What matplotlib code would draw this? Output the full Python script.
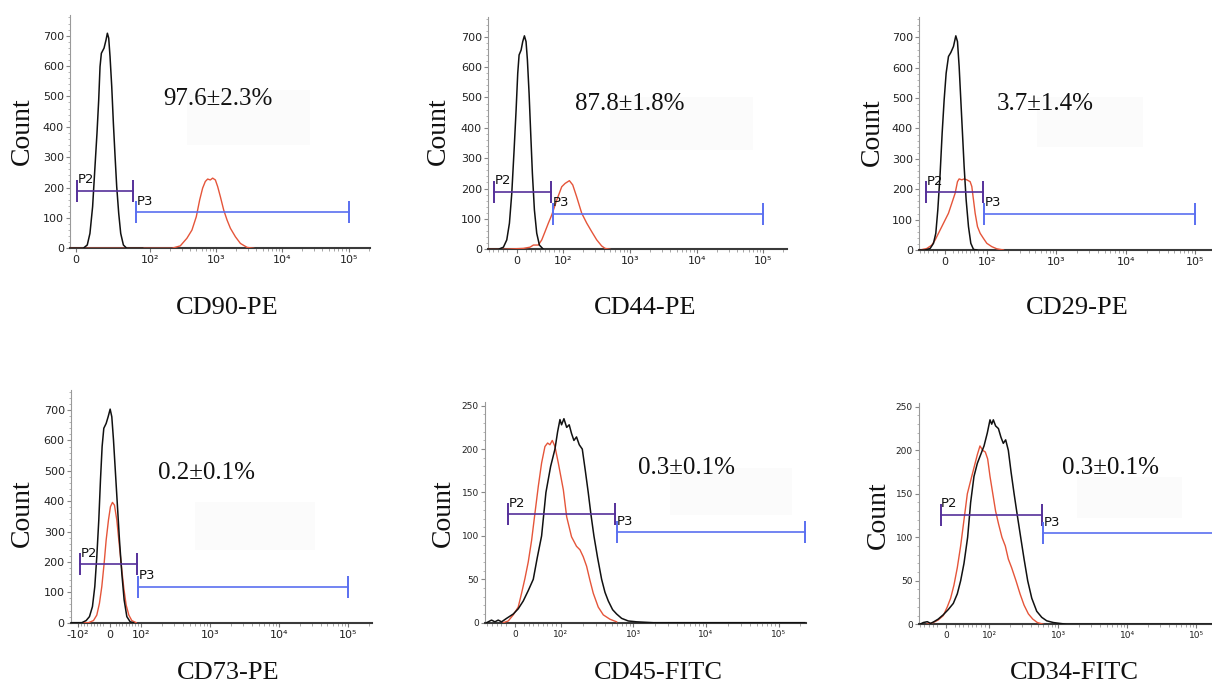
"""Flow cytometry histograms: isotype control (black) vs. stained (red) for six markers."""

import matplotlib

matplotlib.use("Agg")
import matplotlib.pyplot as plt
from matplotlib.patches import Rectangle
from matplotlib.ticker import NullFormatter

FIG_W, FIG_H = 1212, 691

# ---- values (x = fluorescence, y = count) ----
MARKERS = ["CD90-PE", "CD44-PE", "CD29-PE", "CD73-PE", "CD45-FITC", "CD34-FITC"]
PERCENTS = ["97.6±2.3%", "87.8±1.8%", "3.7±1.4%", "0.2±0.1%", "0.3±0.1%", "0.3±0.1%"]

CD90_ISO_X = [-8, 9.9, 15.3, 18.9, 22.5, 25.7, 28.4, 30.7, 32.5, 34.3, 37.9, 40.6,
              42.4, 44.2, 46, 48.3, 50.5, 52.8, 55, 57.7, 60.4, 64, 68.5, 90]
CD90_ISO_Y = [0, 0, 11, 49, 137, 269, 379, 488, 598, 642, 659, 686,
              708, 692, 631, 532, 412, 302, 203, 115, 49, 11, 0, 0]
CD90_STAIN_X = [-8, 213, 286, 360, 429, 499, 561, 622, 683, 741, 813, 882, 969,
                1050, 1153, 1295, 1455, 1634, 1946, 2316, 2924, 3690]
CD90_STAIN_Y = [0, 0, 8, 33, 60, 104, 159, 198, 220, 228, 225, 231, 225,
                203, 170, 126, 93, 66, 38, 16, 3, 0]

CD44_ISO_X = [-61, -39.3, -28.6, -21.4, -15.7, -10.7, -5.7, -1.4, 2.1, 5.0, 9.3,
              12.8, 16.4, 19.9, 22.8, 26.4, 29.9, 33.5, 37.8, 42.8, 48.5, 57.0]
CD44_ISO_Y = [0, 0, 7, 31, 86, 184, 327, 459, 580, 640, 656,
              684, 703, 684, 624, 514, 382, 250, 130, 53, 14, 0]
CD44_STAIN_X = [-61, -29.3, 14.1, 28.5, 35.6, 46.3, 53.6, 60.6, 67.7, 75, 85.7, 96.4,
                106, 123, 138, 158, 188, 224, 266, 316, 375, 421, 500]
CD44_STAIN_Y = [0, 0, 3, 7, 14, 14, 31, 58, 86, 113, 162, 206,
                217, 226, 212, 173, 119, 86, 58, 31, 11, 3, 0]

CD29_ISO_X = [-62, -48, -36, -28, -22.4, -17.6, -12, -7.2, -2.4, 2.4, 8, 13.6,
              20, 25.6, 29.6, 33.6, 37.6, 41.6, 45.6, 50.4, 56, 61.6, 68, 76]
CD29_ISO_Y = [0, 0, 5, 22, 55, 132, 252, 384, 494, 582, 637, 650,
              670, 705, 686, 604, 494, 384, 274, 165, 77, 22, 2, 0]
CD29_STAIN_X = [-62, -60, -44, -32, -24, -16, -8, 0, 8, 16, 24, 29.6, 33.6, 40,
                45.6, 52, 60, 64, 68, 72, 77.6, 84, 92, 100, 118, 139, 174]
CD29_STAIN_Y = [0, 0, 5, 16, 33, 55, 77, 99, 121, 154, 187, 225, 234, 231,
                234, 231, 225, 209, 165, 121, 77, 55, 38, 22, 11, 4, 0]

CD73_ISO_X = [-126, -87.8, -74.1, -63.6, -54.2, -46.8, -40.5, -34.2, -28.9, -23.7,
              -18.4, -11, -4.7, 1.6, 6.8, 12.1, 18.4, 24.7, 31, 38.4, 45.7, 54.2,
              64.7, 75.2]
CD73_ISO_Y = [0, 0, 7, 20, 53, 119, 217, 338, 470, 580,
              640, 656, 678, 703, 678, 602, 492, 382, 272, 162, 75, 20,
              3, 0]
CD73_STAIN_X = [-126, -66.8, -51, -40.5, -32.1, -24.7, -17.4, -11, -3.7, 2.6, 8.9,
                15.2, 22.6, 30, 37.3, 44.7, 52.1, 60.5, 69.9, 83.6]
CD73_STAIN_Y = [0, 0, 7, 25, 64, 119, 195, 272, 338, 382, 396,
                387, 338, 261, 184, 113, 58, 25, 7, 0]

CD45_ISO_X = [-61.6, -50.8, -43.5, -36.3, -29, -18.1, -3.6, 7.2, 18.1, 29,
              39.9, 48.6, 58, 67.4, 77.6, 87, 92.8, 97.9, 102, 110,
              120, 130, 140, 151, 164, 179, 197, 217, 238, 259,
              285, 320, 364, 405, 450, 516, 586, 687, 848, 1106,
              1877, 230000]
CD45_ISO_Y = [0, 3, 1, 3, 1, 5, 10, 16, 25, 37,
              50, 75, 100, 150, 180, 200, 220, 234, 228, 235,
              225, 228, 218, 210, 214, 205, 200, 175, 150, 125,
              100, 75, 50, 35, 25, 15, 10, 5, 2, 1,
              0, 0]
CD45_STAIN_X = [-25.4, -14.5, -3.6, 7.2, 14.5, 21.8, 29, 36.3, 43.5, 50.8,
                58, 65.3, 71.1, 76.1, 81.2, 87, 94.3, 108, 120, 140,
                164, 183, 203, 226, 251, 279, 327, 384, 474, 586]
CD45_STAIN_Y = [0, 2, 9, 18, 34, 51, 70, 95, 126, 157,
                184, 203, 207, 205, 210, 203, 184, 153, 122, 99,
                88, 84, 76, 65, 49, 34, 18, 9, 4, 1]

CD34_ISO_X = [-59.9, -52.2, -43, -35.3, -27.6, -17.7, -6.1, 5.4, 16.9, 26.1,
              33.8, 41.5, 49.9, 56.8, 64.5, 72.2, 79.9, 87.6, 95.2, 102,
              108, 114, 123, 135, 147, 159, 172, 188, 206, 228,
              254, 284, 318, 359, 411, 485, 574, 678, 847, 1323,
              260000]
CD34_ISO_Y = [0, 2, 3, 1, 3, 6, 11, 17, 24, 35,
              50, 70, 100, 140, 170, 185, 195, 205, 220, 235,
              230, 235, 228, 225, 215, 208, 212, 200, 175, 150,
              125, 100, 75, 50, 30, 15, 8, 4, 2, 0,
              0]
CD34_STAIN_X = [-44.5, -29.2, -17.7, -6.1, 3.1, 10.8, 18.4, 26.1, 33.8, 41.5,
                49.2, 56.8, 64.5, 72.2, 78.3, 84.5, 90.6, 96, 102, 112,
                123, 136, 152, 170, 188, 210, 243, 278, 318, 367,
                425, 496, 607]
CD34_STAIN_Y = [0, 2, 5, 10, 20, 30, 45, 65, 90, 120,
                150, 165, 180, 195, 205, 200, 198, 190, 170, 150,
                130, 115, 100, 90, 75, 65, 50, 35, 22, 12,
                6, 2, 0]

# gates: (left, right, count level)
P2_GATES = [(1.4, 77.5, 190), (-48.6, 72.8, 190), (-45.6, 90.5, 190),
            (-93, 85.8, 192), (-14.5, 556, 125), (-12.3, 580, 125.6)]
P3_GATES = [(81, 1e5, 118), (77, 1e5, 117), (94.4, 1e5, 118.6),
            (90.9, 1e5, 118.5), (586, 2.3e5, 104), (607, 4e5, 104.5)]

CURVES = [
    (CD90_ISO_X, CD90_ISO_Y, CD90_STAIN_X, CD90_STAIN_Y),
    (CD44_ISO_X, CD44_ISO_Y, CD44_STAIN_X, CD44_STAIN_Y),
    (CD29_ISO_X, CD29_ISO_Y, CD29_STAIN_X, CD29_STAIN_Y),
    (CD73_ISO_X, CD73_ISO_Y, CD73_STAIN_X, CD73_STAIN_Y),
    (CD45_ISO_X, CD45_ISO_Y, CD45_STAIN_X, CD45_STAIN_Y),
    (CD34_ISO_X, CD34_ISO_Y, CD34_STAIN_X, CD34_STAIN_Y),
]

XTICKS = [0, 1e2, 1e3, 1e4, 1e5]
XTICK_LABELS = ["0", "10²", "10³", "10⁴", "10⁵"]
XTICKS_NEG = [-1e2, 0, 1e2, 1e3, 1e4, 1e5]
XTICK_LABELS_NEG = ["-10²", "0", "10²", "10³", "10⁴", "10⁵"]

# ---- layout, in pixels of the 1212x691 canvas ----
# box = (left, right, bottom, top) of the plotting area
LAYOUT = [
    dict(box=(70, 370, 248.3, 15), ymax=768, linscale=1.008, xlim=(-8, 2.1e5),
         ystep=(100, 20, 700), tsize=8, neg=False,
         xlabel=(227, 308), ylabel=(22, 131), pct=(163, 105), shade=(187, 310, 90, 145)),
    dict(box=(488.3, 786.7, 249.3, 16.7), ymax=766, linscale=0.63, xlim=(-61, 2.24e5),
         ystep=(100, 20, 700), tsize=8, neg=False,
         xlabel=(645, 308), ylabel=(438, 131), pct=(575, 110), shade=(610, 753, 97, 150)),
    dict(box=(919.3, 1219, 250, 16.7), ymax=768, linscale=0.54, xlim=(-62, 2.2e5),
         ystep=(100, 20, 700), tsize=8, neg=False,
         xlabel=(1077, 308), ylabel=(872, 132), pct=(996.7, 110), shade=(1036.7, 1143.3, 96.7, 146.7)),
    dict(box=(71, 371.7, 622.7, 390), ymax=766, linscale=0.414, xlim=(-126, 2.19e5),
         ystep=(100, 20, 700), tsize=8, neg=True,
         xlabel=(228, 673), ylabel=(22, 513), pct=(158.3, 479), shade=(195, 315, 501.7, 550)),
    dict(box=(485, 805.7, 622.7, 401.7), ymax=254.6, linscale=0.571, xlim=(-65, 2.37e5),
         ystep=(50, 10, 250), tsize=6.5, neg=False,
         xlabel=(658, 673), ylabel=(443, 513), pct=(638.3, 474.3), shade=(670, 791.7, 468.3, 515)),
    dict(box=(919, 1225, 624.3, 402.7), ymax=254.7, linscale=0.567, xlim=(-62, 2.6e5),
         ystep=(50, 10, 250), tsize=6.5, neg=False,
         xlabel=(1074, 673), ylabel=(878, 515), pct=(1061.7, 474.3), shade=(1076.7, 1181.7, 476.7, 518.3)),
]

ISO_COLOR = "#111111"
STAIN_COLOR = "#e5553a"
P2_COLOR = "#55309a"
P3_COLOR = "#5a6ff0"
SERIF = "Liberation Serif"


def fig_xy(x, y):
    return x / FIG_W, 1 - y / FIG_H


fig = plt.figure(figsize=(FIG_W / 100, FIG_H / 100), dpi=100)

for i, lay in enumerate(LAYOUT):
    left, right, bottom, top = lay["box"]
    ax = fig.add_axes([left / FIG_W, 1 - bottom / FIG_H,
                       (right - left) / FIG_W, (bottom - top) / FIG_H])
    ax.set_facecolor("none")
    ax.set_xscale("symlog", linthresh=100, linscale=lay["linscale"])

    # barely visible box behind the percentage (left over from the original figure)
    x0, x1, y0, y1 = lay["shade"]
    fig.add_artist(Rectangle(fig_xy(x0, y1), (x1 - x0) / FIG_W, (y1 - y0) / FIG_H,
                             transform=fig.transFigure, facecolor="#fbfbfb",
                             edgecolor="none", zorder=-1))

    iso_x, iso_y, st_x, st_y = CURVES[i]
    ax.plot(st_x, st_y, color=STAIN_COLOR, lw=1.0, zorder=3)
    ax.plot(iso_x, iso_y, color=ISO_COLOR, lw=1.1, zorder=4)

    # gates with end caps
    for name, gate, color in (("P2", P2_GATES[i], P2_COLOR), ("P3", P3_GATES[i], P3_COLOR)):
        g0, g1, gy = gate
        ax.plot([g0, g1], [gy, gy], color=color, lw=1.2, marker="|",
                markersize=16, markeredgewidth=1.4, zorder=5)
        ax.annotate(name, (g0, gy), xytext=(0.3, 5.5), textcoords="offset points",
                    ha="left", va="baseline", fontsize=9.5, family="DejaVu Sans",
                    color="#111111", zorder=6)

    # axes cosmetics
    ax.set_xlim(*lay["xlim"])
    ax.set_ylim(0, lay["ymax"])
    major, minor, ytop = lay["ystep"]
    ax.set_yticks(list(range(0, ytop + 1, major)))
    ax.set_yticks(list(range(0, int(lay["ymax"]) + 1, minor)), minor=True)

    if lay["neg"]:
        ax.set_xticks(XTICKS_NEG, XTICK_LABELS_NEG)
    else:
        ax.set_xticks(XTICKS, XTICK_LABELS)
    lo, hi = lay["xlim"]
    minor_x = [k * 10 ** e for e in (2, 3, 4, 5) for k in range(2, 10)]
    if i > 0:
        minor_x += [s * k for s in (-1, 1) for k in range(20, 100, 10)]
    if lay["neg"]:
        minor_x += [-k * 100 for k in range(2, 10)]
    ax.set_xticks([v for v in minor_x if lo < v < hi], minor=True)
    ax.xaxis.set_minor_formatter(NullFormatter())

    for side in ("top", "right"):
        ax.spines[side].set_visible(False)
    ax.spines["left"].set_color("#9a9a9a")
    ax.spines["left"].set_linewidth(0.8)
    ax.spines["bottom"].set_color("#3a3a3a")
    ax.spines["bottom"].set_linewidth(1.5)

    ax.tick_params(axis="y", which="major", length=3, width=0.8, color="#888888",
                   labelsize=lay["tsize"], labelcolor="#222222", pad=1.5)
    ax.tick_params(axis="y", which="minor", length=1.8, width=0.6, color="#aaaaaa")
    ax.tick_params(axis="x", which="major", length=3, width=0.8, color="#777777",
                   labelsize=lay["tsize"], labelcolor="#222222", pad=2)
    ax.tick_params(axis="x", which="minor", length=2, width=0.6, color="#999999")

    # labels
    fig.text(*fig_xy(*lay["xlabel"]), MARKERS[i], ha="center", va="center",
             family=SERIF, fontsize=19, color="#111111")
    fig.text(*fig_xy(*lay["ylabel"]), "Count", ha="center", va="center",
             rotation=90, family=SERIF, fontsize=20, color="#111111")
    fig.text(*fig_xy(*lay["pct"]), PERCENTS[i], ha="left", va="baseline",
             family=SERIF, fontsize=18, color="#111111")

fig.savefig("out.png", dpi=100)
